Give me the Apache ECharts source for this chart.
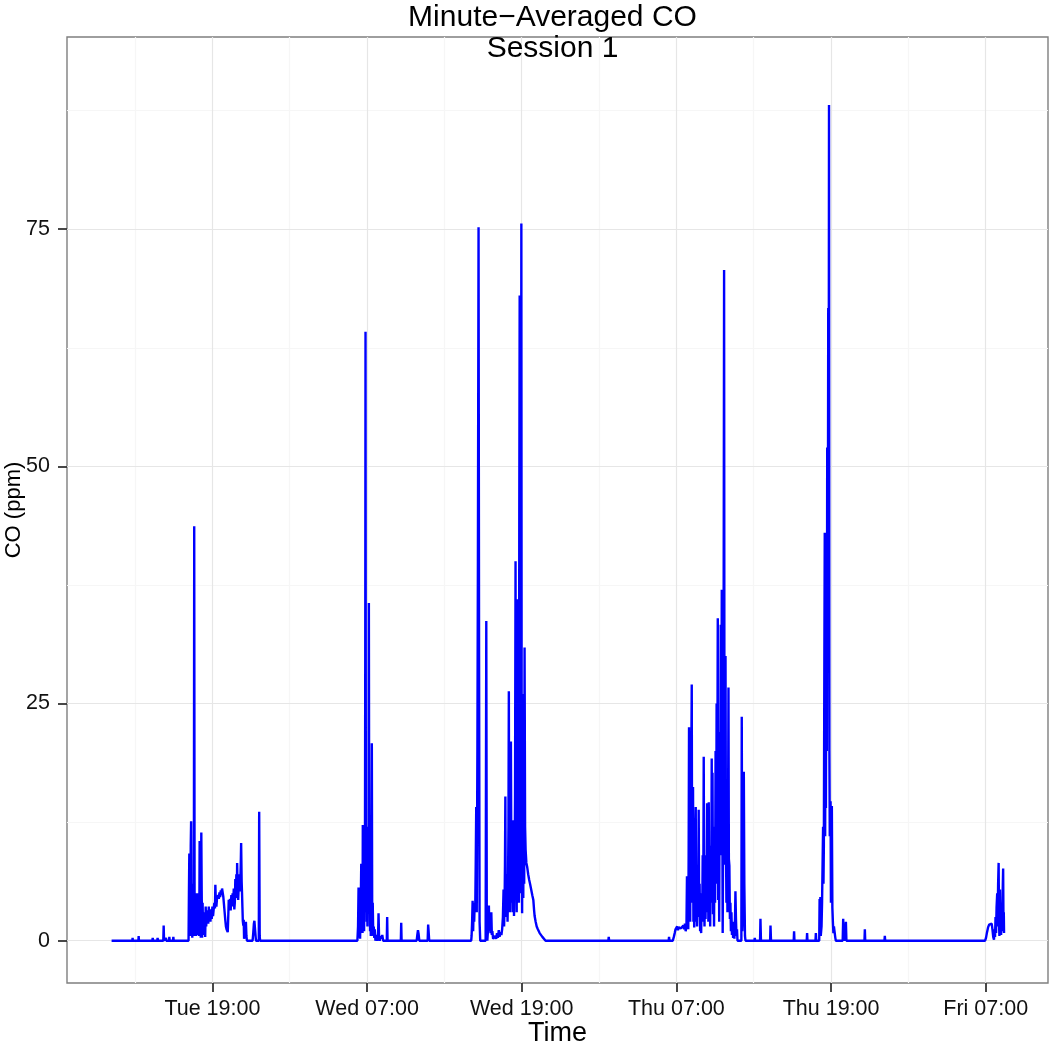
<!DOCTYPE html>
<html lang="en">

<head>
    <meta charset="UTF-8">
    <script type="text/javascript" src="https://cdn.jsdelivr.net/npm/echarts@6/dist/echarts.min.js"></script>
    <title>Minute-Averaged CO</title>
    <style type="text/css">
        html, body {
            margin: 0;
            padding: 0;
            background: #fff;
        }

        #chart {
            width: 1050px;
            height: 1042px;
        }
    </style>
</head>

<body>
<div id="chart"></div>
<script type="text/javascript">
    // time is hours since Tue 00:00, CO in ppm
    const tueAfternoon = [
        [11.18, 0], [12.79, 0], [12.81, 0.3], [12.83, 0], [13.26, 0], [13.28, 0.5], [13.30, 0],
        [14.34, 0], [14.37, 0.3], [14.40, 0], [14.72, 0], [14.75, 0.3], [14.78, 0],
        [15.19, 0], [15.22, 1.6], [15.25, 0], [15.38, 0], [15.40, 0.3], [15.42, 0],
        [15.64, 0], [15.66, 0.4], [15.69, 0], [15.95, 0], [15.97, 0.4], [16.00, 0],
        [16.10, 0], [16.12, 0.2], [16.15, 0]
    ];
    const tueEvening = [
        [17.15, 0], [17.18, 5], [17.21, 9.2], [17.23, 1], [17.26, 7], [17.29, 0.5], [17.32, 10], [17.35, 12.6],
        [17.38, 2], [17.41, 6], [17.44, 0.3], [17.47, 4], [17.50, 1.2], [17.53, 5], [17.56, 0.5], [17.59, 43.7],
        [17.62, 2], [17.65, 5], [17.68, 0.6], [17.71, 3.5], [17.74, 0.5], [17.77, 4.2], [17.80, 1], [17.83, 5],
        [17.86, 0.6], [17.89, 3.2], [17.92, 0.8], [17.95, 4], [17.98, 0.5], [18.01, 10.5], [18.04, 1.5], [18.07, 4],
        [18.10, 0.3], [18.14, 11.4], [18.17, 5.2], [18.20, 0.3], [18.24, 4], [18.28, 0.6], [18.32, 3], [18.36, 1.5],
        [18.40, 2.6], [18.44, 0.4], [18.48, 3.6], [18.52, 1.5], [18.56, 3], [18.60, 2.1], [18.64, 3.2], [18.68, 1.8],
        [18.72, 3.6], [18.76, 2.4], [18.80, 3], [18.85, 2.0], [18.90, 3.3], [18.95, 2.3], [19.00, 3.6], [19.05, 2.6],
        [19.10, 2.8], [19.15, 4.0], [19.20, 3.4], [19.23, 5.9], [19.27, 4], [19.31, 3.6], [19.36, 4.5], [19.41, 4.3],
        [19.46, 4.8], [19.50, 4.4], [19.55, 5.1], [19.60, 4.6], [19.65, 5.3], [19.70, 4.8], [19.75, 5.5], [19.80, 5.3],
        [19.85, 4.6], [19.90, 3.8], [19.95, 3.0], [20.00, 2.2], [20.05, 1.5], [20.10, 1.2], [20.15, 1.0], [20.19, 0.9],
        [20.23, 2.5], [20.27, 4.3], [20.32, 3.6], [20.37, 4.4], [20.42, 3.2], [20.47, 4.8], [20.52, 3.6], [20.57, 5.0],
        [20.62, 4.2], [20.66, 5.5], [20.70, 3.3], [20.74, 4.0], [20.78, 6.5], [20.82, 4.5], [20.86, 7.0], [20.90, 4.8],
        [20.92, 8.2], [20.96, 5.0], [21.00, 4.3], [21.05, 6.0], [21.10, 7.0], [21.15, 5.2], [21.20, 8.0], [21.23, 10.3],
        [21.27, 6.2], [21.30, 5.0], [21.33, 3.5], [21.36, 2.1], [21.40, 1.6], [21.43, 2.2], [21.46, 0.2], [21.50, 0],
        [21.55, 1.0], [21.60, 2.0], [21.64, 0.5], [21.68, 0], [22.12, 0], [22.17, 0.8], [22.22, 1.8], [22.26, 2.1],
        [22.32, 1.0], [22.38, 0], [22.60, 0], [22.63, 13.6], [22.67, 0.5], [22.70, 0]
    ];
    const wedMorning = [
        [30.25, 0], [30.30, 1.5], [30.34, 5.6], [30.37, 0.3], [30.42, 3], [30.46, 0.2], [30.51, 4], [30.55, 8.1],
        [30.58, 1], [30.62, 5], [30.65, 0.8], [30.67, 12.2], [30.70, 2], [30.74, 9], [30.77, 1], [30.80, 11],
        [30.83, 3], [30.86, 30], [30.88, 64.2], [30.91, 5], [30.94, 11], [30.97, 2], [31.00, 9], [31.03, 1.5],
        [31.07, 12], [31.11, 3], [31.14, 35.6], [31.17, 6], [31.20, 10], [31.23, 1], [31.26, 8], [31.29, 0.5],
        [31.33, 6], [31.37, 20.8], [31.40, 2], [31.44, 4], [31.48, 0.5], [31.52, 1.5], [31.56, 0.3], [31.60, 1.2],
        [31.65, 0], [31.72, 0.6], [31.78, 0], [31.85, 0.3], [31.89, 2.9], [31.93, 0.4], [31.98, 0], [32.05, 0.5],
        [32.10, 0.2], [32.18, 0.6], [32.25, 0], [32.53, 0], [32.56, 2.5], [32.59, 0], [33.62, 0], [33.65, 1.9],
        [33.68, 0], [34.85, 0], [34.90, 0.6], [34.95, 1.1], [35.00, 0.7], [35.05, 0], [35.70, 0], [35.74, 1.7],
        [35.78, 0.9], [35.82, 0], [36.70, 0], [36.74, 0.2], [36.78, 0]
    ];
    const wedEvening = [
        [37.50, 0], [37.53, 0.2], [37.56, 0], [38.00, 0], [38.03, 0.2], [38.06, 0], [38.50, 0], [38.53, 0.1],
        [38.56, 0], [38.88, 0], [38.92, 0.2], [38.96, 0], [39.08, 0], [39.11, 0.5], [39.15, 2], [39.19, 4.2],
        [39.23, 1], [39.27, 3.5], [39.31, 2], [39.35, 4], [39.39, 3], [39.43, 8], [39.47, 14.1], [39.51, 3],
        [39.56, 20], [39.60, 40], [39.65, 75.2], [39.69, 30], [39.73, 2], [39.78, 0], [40.20, 0], [40.25, 33.7],
        [40.29, 0.5], [40.33, 0], [40.40, 1.5], [40.45, 3.7], [40.49, 1.0], [40.54, 2.2], [40.58, 0.8], [40.64, 3.0],
        [40.68, 0.6], [40.72, 1.0], [40.78, 0.2], [40.85, 0], [40.95, 0.5], [41.02, 0.2], [41.08, 0.8], [41.15, 0.3],
        [41.22, 1.1], [41.28, 0.4], [41.35, 0.9], [41.42, 0.6], [41.48, 1.2], [41.54, 2.5], [41.59, 5.4], [41.63, 1.5],
        [41.67, 4], [41.70, 8], [41.73, 15.2], [41.76, 2.5], [41.80, 6], [41.83, 3], [41.86, 7], [41.90, 2],
        [41.93, 5], [41.97, 12], [42.00, 26.3], [42.03, 4], [42.06, 10], [42.09, 3], [42.13, 8], [42.16, 21],
        [42.19, 10], [42.22, 4], [42.26, 10.6], [42.30, 3], [42.33, 8], [42.37, 12.7], [42.40, 2.6], [42.44, 6],
        [42.48, 15], [42.52, 40], [42.55, 5], [42.58, 20], [42.61, 3], [42.63, 36], [42.66, 4.3], [42.69, 25],
        [42.72, 6], [42.75, 30], [42.78, 4], [42.81, 45], [42.84, 68], [42.87, 8], [42.90, 35], [42.93, 5],
        [42.97, 75.6], [43.00, 10], [43.03, 2.9], [43.06, 20], [43.09, 26], [43.12, 4.5], [43.15, 15], [43.19, 6],
        [43.22, 30.9], [43.26, 12], [43.30, 9.6], [43.36, 8.2], [43.42, 7.8], [43.50, 7], [43.58, 6.4], [43.66, 5.9],
        [43.74, 5.7], [43.82, 4.8], [43.90, 4.3], [43.96, 3.2], [44.00, 2.6], [44.08, 2], [44.16, 1.5], [44.25, 1.2],
        [44.32, 1.0], [44.39, 0.8], [44.50, 0.6], [44.60, 0.4], [44.70, 0.3], [44.85, 0], [45.20, 0], [45.23, 0.2],
        [45.26, 0], [46.18, 0], [46.21, 0.2], [46.24, 0], [47.07, 0], [47.10, 0.2], [47.13, 0], [49.72, 0],
        [49.75, 0.4], [49.78, 0]
    ];
    const thuMorning = [
        [54.40, 0], [54.43, 0.4], [54.46, 0], [54.72, 0], [54.80, 0.4], [54.87, 0.8], [54.93, 1.2], [55.00, 1.3],
        [55.06, 1.5], [55.12, 1.1], [55.18, 1.4], [55.24, 1.2], [55.30, 1.6], [55.36, 1.3], [55.42, 1.5], [55.48, 1.1],
        [55.54, 1.6], [55.60, 1.2], [55.66, 1.8], [55.72, 1.0], [55.78, 1.5], [55.82, 6.8], [55.85, 2.5], [55.89, 5],
        [55.92, 1.2], [55.95, 9], [55.98, 22.5], [56.01, 3], [56.04, 12], [56.07, 2], [56.10, 18], [56.13, 4],
        [56.16, 20], [56.19, 27], [56.22, 6], [56.25, 12], [56.29, 16.2], [56.32, 2], [56.35, 9], [56.38, 1.4],
        [56.42, 6], [56.46, 11], [56.50, 14.1], [56.53, 2], [56.57, 8], [56.60, 1.5], [56.64, 5], [56.68, 2.5],
        [56.73, 13.8], [56.76, 4], [56.80, 6], [56.84, 1], [56.88, 3], [56.92, 0.8], [56.96, 5], [57.00, 2],
        [57.04, 9], [57.08, 3], [57.12, 19.4], [57.15, 5], [57.18, 1.5], [57.22, 7], [57.26, 2.3], [57.30, 9],
        [57.34, 4], [57.38, 14.5], [57.41, 3], [57.45, 11], [57.48, 2], [57.51, 14.6], [57.54, 3.2], [57.58, 8],
        [57.62, 1.5], [57.66, 10], [57.70, 4], [57.74, 19.2], [57.77, 6], [57.80, 17.7], [57.84, 2.8], [57.88, 7],
        [57.92, 1.5], [57.96, 12], [58.00, 4], [58.04, 20], [58.08, 6], [58.12, 25], [58.16, 8], [58.21, 34],
        [58.24, 4.3], [58.28, 15], [58.32, 2], [58.36, 22], [58.40, 9], [58.44, 33.3], [58.48, 12], [58.52, 37],
        [58.55, 20], [58.59, 0.8], [58.63, 12], [58.66, 30], [58.70, 70.7], [58.73, 15], [58.77, 8], [58.81, 30],
        [58.84, 11.5], [58.88, 4], [58.92, 11], [58.96, 3], [59.00, 9], [59.04, 26.7], [59.07, 8.6], [59.11, 7.9],
        [59.15, 2.3], [59.19, 4], [59.23, 1], [59.27, 3], [59.31, 0.6], [59.35, 2], [59.40, 0.3], [59.45, 1.5],
        [59.50, 0.2], [59.55, 2.5], [59.58, 5.2], [59.62, 2.4], [59.66, 0.5], [59.70, 1.2], [59.74, 0], [60.04, 0],
        [60.07, 23.6], [60.11, 1], [60.16, 3], [60.20, 8], [60.23, 17.8], [60.27, 6], [60.32, 0.5], [60.36, 0],
        [61.05, 0], [61.08, 0.3], [61.11, 0], [61.49, 0], [61.52, 2.3], [61.56, 0], [62.27, 0], [62.30, 1.6],
        [62.34, 0]
    ];
    const thuEvening = [
        [63.13, 0], [63.15, 0.2], [63.18, 0], [63.38, 0], [63.40, 0.2], [63.43, 0], [64.10, 0], [64.13, 1.0],
        [64.16, 0], [64.55, 0], [64.57, 0.2], [64.60, 0], [65.11, 0], [65.14, 0.8], [65.17, 0], [65.79, 0],
        [65.82, 0.8], [65.85, 0], [66.08, 0], [66.11, 4.4], [66.14, 1], [66.17, 4.6], [66.20, 0.5], [66.26, 1.5],
        [66.30, 4], [66.34, 8], [66.38, 12], [66.41, 6], [66.44, 10], [66.48, 30], [66.51, 43], [66.54, 11],
        [66.57, 25], [66.60, 14], [66.64, 38], [66.67, 20], [66.70, 52], [66.74, 30], [66.78, 66.7], [66.81, 40],
        [66.84, 88.1], [66.87, 20], [66.90, 11], [66.93, 13], [66.96, 14.7], [66.99, 4], [67.03, 10], [67.06, 14.2],
        [67.10, 3.5], [67.14, 2], [67.18, 0.8], [67.22, 1.5], [67.29, 1.5], [67.33, 0.3], [67.37, 0], [67.90, 0],
        [67.94, 2.3], [67.98, 0.5], [68.05, 0], [68.12, 0], [68.15, 2.0], [68.19, 0], [69.59, 0], [69.62, 1.2],
        [69.65, 0], [71.14, 0], [71.17, 0.5], [71.20, 0]
    ];
    const friMorning = [
        [78.95, 0], [79.02, 0.3], [79.10, 0.9], [79.18, 1.4], [79.27, 1.7], [79.34, 1.5], [79.40, 1.9], [79.46, 1.8],
        [79.52, 1.2], [79.58, 0.4], [79.64, 0.1], [79.68, 1.2], [79.72, 0.4], [79.76, 2.5], [79.80, 0.8], [79.84, 3.5],
        [79.89, 5], [79.92, 1.5], [79.96, 6], [80.00, 8.2], [80.03, 2], [80.06, 0.5], [80.10, 5.4], [80.13, 1.5],
        [80.16, 3], [80.19, 0.6], [80.23, 4], [80.27, 1.2], [80.31, 5], [80.35, 7.6], [80.38, 1], [80.40, 3],
        [80.42, 0.8]
    ];

    // axis ticks
    const xMajorTicks = [19, 31, 43, 55, 67, 79];
    const xTickLabels = ['Tue 19:00', 'Wed 07:00', 'Wed 19:00', 'Thu 07:00', 'Thu 19:00', 'Fri 07:00'];
    const xMinorTicks = [13, 25, 37, 49, 61, 73];
    const yMajorTicks = [0, 25, 50, 75];
    const yMinorTicks = [12.5, 37.5, 62.5, 87.5];

    const FONT = '"Liberation Sans", Arial, Helvetica, sans-serif';
    const coData = [].concat(tueAfternoon, tueEvening, wedMorning, wedEvening, thuMorning, thuEvening, friMorning);

    let chart = echarts.init(document.getElementById('chart'), null, {renderer: 'canvas'});

    function gridLine(axis, v, color) {
        let item = {lineStyle: {color: color, width: 1.2, type: 'solid'}};
        item[axis] = v;
        return item;
    }

    let option = {
        animation: false,
        backgroundColor: '#ffffff',
        textStyle: {fontFamily: FONT},
        title: {
            text: 'Minute\u2212Averaged CO\nSession 1',
            left: 547.5,
            top: -3,
            textAlign: 'center',
            textStyle: {
                fontFamily: FONT,
                fontSize: 30,
                fontWeight: 'normal',
                color: '#000',
                lineHeight: 31
            }
        },
        grid: {
            left: 67,
            right: 2,
            top: 37,
            bottom: 59,
            outerBoundsMode: 'none',
            containLabel: false,
            show: true,
            backgroundColor: '#fff',
            borderColor: '#7f7f7f',
            borderWidth: 1.4
        },
        xAxis: {
            type: 'value',
            min: 7.72,
            max: 83.83,
            name: 'Time',
            nameLocation: 'middle',
            nameGap: 37,
            nameMoveOverlap: false,
            nameTextStyle: {fontSize: 27, color: '#000', fontFamily: FONT},
            axisLine: {show: false, onZero: false},
            splitLine: {show: false},
            axisTick: {
                show: true,
                customValues: xMajorTicks,
                length: 9,
                lineStyle: {color: '#333', width: 1.8}
            },
            axisLabel: {
                customValues: xMajorTicks,
                formatter: v => xTickLabels[xMajorTicks.indexOf(v)],
                fontSize: 21.5,
                color: '#111',
                margin: 15,
                fontFamily: FONT
            }
        },
        yAxis: {
            type: 'value',
            min: -4.46,
            max: 95.26,
            name: 'CO (ppm)',
            nameLocation: 'middle',
            nameGap: 42,
            nameMoveOverlap: false,
            nameTextStyle: {fontSize: 22, color: '#000', fontFamily: FONT},
            axisLine: {show: false, onZero: false},
            splitLine: {show: false},
            axisTick: {
                show: true,
                customValues: yMajorTicks,
                length: 9,
                lineStyle: {color: '#333', width: 1.8}
            },
            axisLabel: {
                customValues: yMajorTicks,
                fontSize: 21.5,
                color: '#111',
                margin: 17,
                fontFamily: FONT
            }
        },
        series: [
            {
                // panel grid lines
                name: 'grid',
                type: 'line',
                data: [],
                silent: true,
                markLine: {
                    silent: true,
                    z: 1,
                    symbol: 'none',
                    label: {show: false},
                    animation: false,
                    data: [].concat(
                        xMinorTicks.map(v => gridLine('xAxis', v, '#f6f6f6')),
                        yMinorTicks.map(v => gridLine('yAxis', v, '#f6f6f6')),
                        xMajorTicks.map(v => gridLine('xAxis', v, '#e6e6e6')),
                        yMajorTicks.map(v => gridLine('yAxis', v, '#e6e6e6'))
                    )
                }
            },
            {
                name: 'CO',
                type: 'line',
                z: 3,
                symbol: 'none',
                showSymbol: false,
                lineStyle: {color: '#0000ff', width: 2.4},
                itemStyle: {color: '#0000ff'},
                data: coData
            }
        ]
    };
    chart.setOption(option);
</script>
</body>

</html>
